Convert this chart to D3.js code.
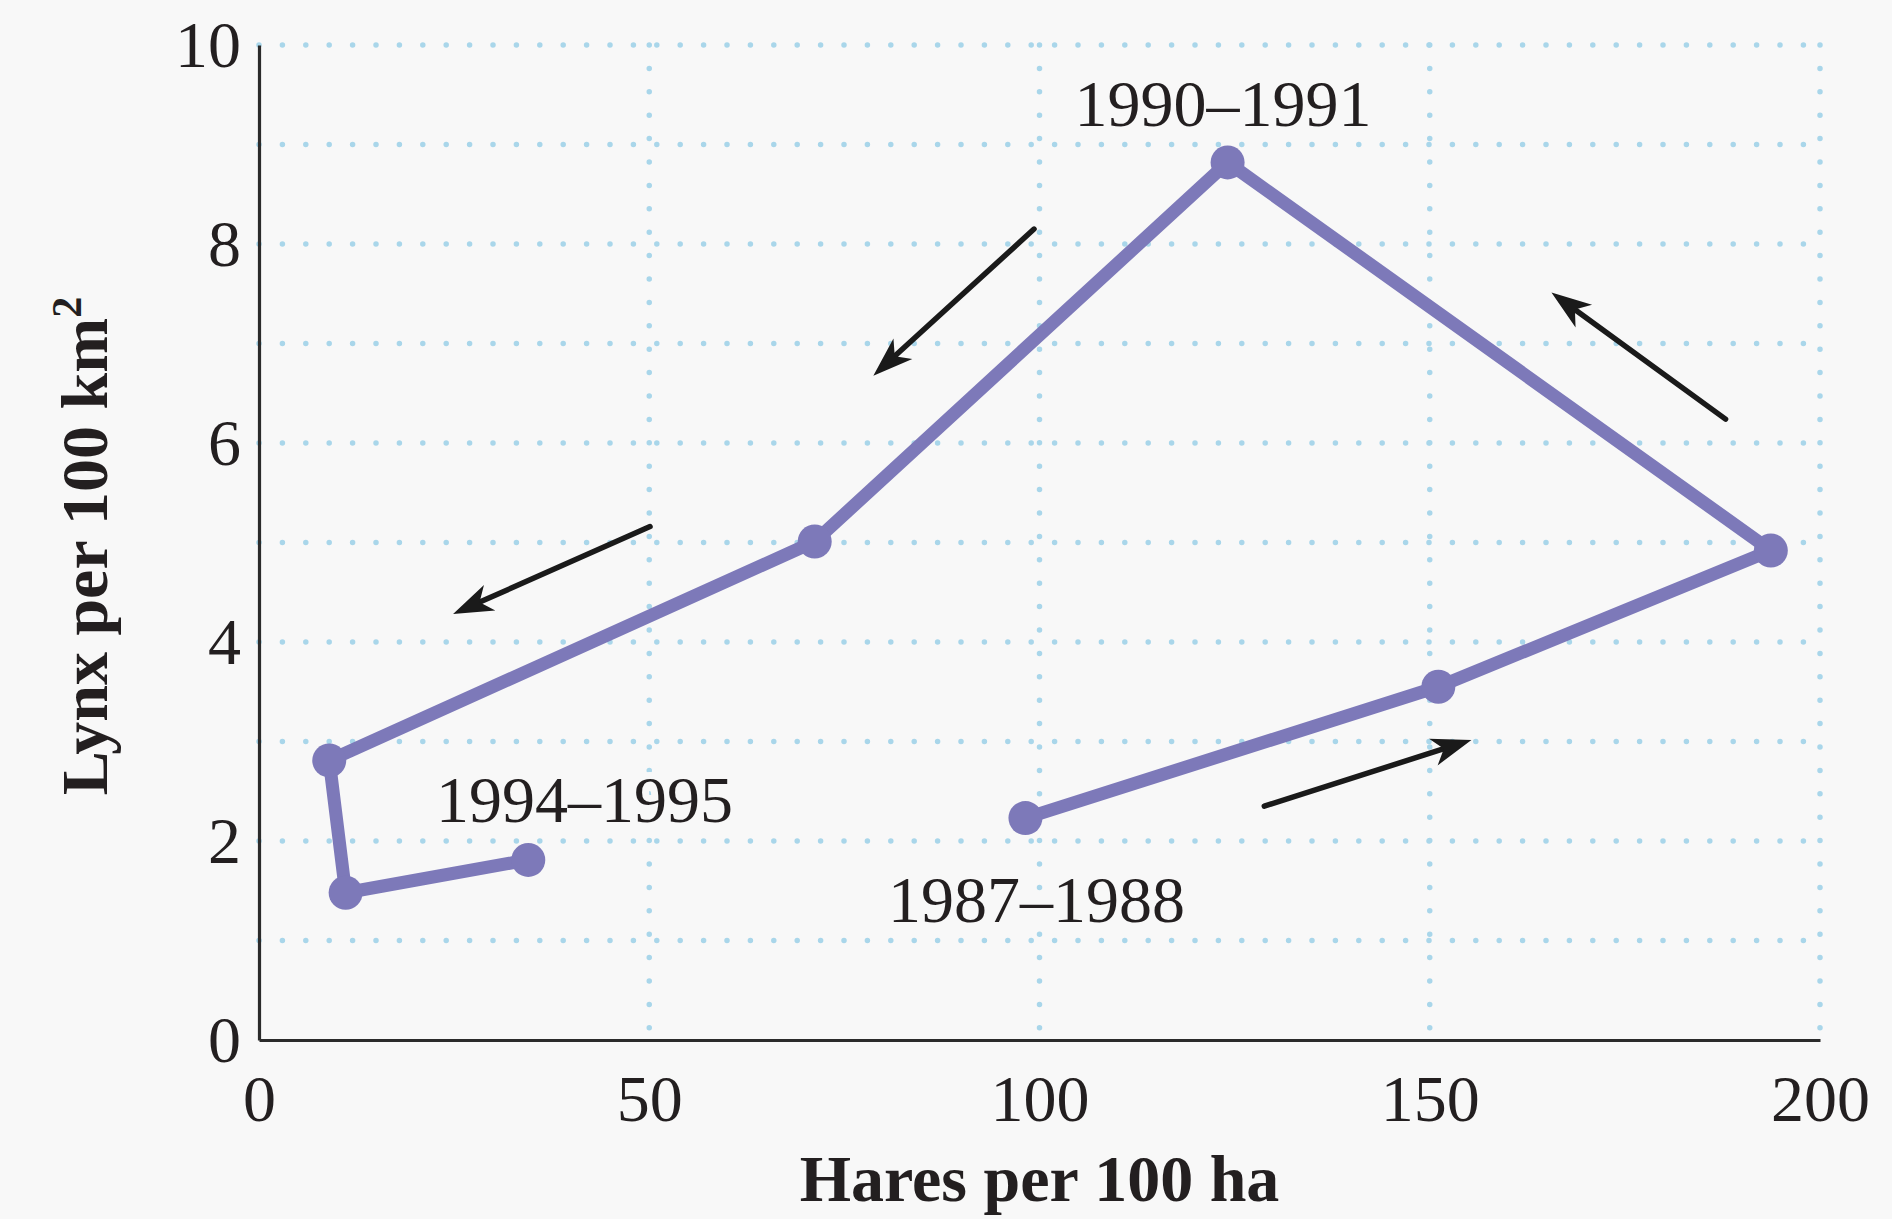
<!DOCTYPE html>
<html>
<head>
<meta charset="utf-8">
<script src="https://cdn.jsdelivr.net/npm/d3@7"></script>
<style>
  html, body { margin: 0; padding: 0; background: #f8f8f8; }
  svg { display: block; }
  text { font-family: "Liberation Serif", "DejaVu Serif", serif; fill: #231f20; }
</style>
</head>
<body>
<svg id="chart" width="1892" height="1219"></svg>
<script>
// Hare and lynx densities, one point per winter, in time order
const years = ["1987–1988", "1988–1989", "1989–1990", "1990–1991", "1991–1992", "1992–1993", "1993–1994", "1994–1995"];
const hares = [98.2, 151.1, 193.7, 124.1, 71.2, 9.0, 11.1, 34.5];
const lynx  = [2.23, 3.55, 4.92, 8.82, 5.01, 2.81, 1.48, 1.81];

// Which points carry a year label, and where the label sits (data units)
const labelIndex = [0, 3, 7];
const labelX = [99.6, 123.5, 41.7];
const labelY = [1.42, 9.42, 2.42];

// Direction-of-travel arrows: start and end in data units
const arrowX0 = [99.3, 50.1, 187.9, 128.8];
const arrowY0 = [8.15, 5.16, 6.24, 2.35];
const arrowX1 = [78.9, 25.1, 165.8, 155.1];
const arrowY1 = [6.69, 4.29, 7.50, 3.01];

const xTicks = [0, 50, 100, 150, 200];
const yTicks = [0, 2, 4, 6, 8, 10];
const xGrid = [50, 100, 150, 200];
const yGrid = [1, 2, 3, 4, 5, 6, 7, 8, 9, 10];

const svg = d3.select("#chart");
const bg = "#f8f8f8";
svg.append("rect").attr("width", 1892).attr("height", 1219).attr("fill", bg);

const x = d3.scaleLinear().domain([0, 200]).range([259, 1820]);
const y = d3.scaleLinear().domain([0, 10]).range([1040, 45]);

// Dotted grid
const gridStyle = g => g
  .attr("stroke", "#a9d6ea")
  .attr("stroke-width", 5.5)
  .attr("stroke-linecap", "round")
  .attr("stroke-dasharray", "0 23.4")
  .attr("fill", "none");

svg.append("g").selectAll("line").data(yGrid).join("line")
  .attr("x1", x(0)).attr("x2", x(200))
  .attr("y1", d => y(d)).attr("y2", d => y(d))
  .call(gridStyle);
svg.append("g").selectAll("line").data(xGrid).join("line")
  .attr("x1", d => x(d)).attr("x2", d => x(d))
  .attr("y1", y(10)).attr("y2", y(0))
  .call(gridStyle);

// Axes
const xAxis = svg.append("g")
  .attr("transform", `translate(0,${y(0)})`)
  .call(d3.axisBottom(x).tickValues(xTicks).tickSize(0).tickPadding(34).tickFormat(d3.format("d")));
const yAxis = svg.append("g")
  .attr("transform", `translate(${x(0)},0)`)
  .call(d3.axisLeft(y).tickValues(yTicks).tickSize(0).tickPadding(18).tickFormat(d3.format("d")));

[xAxis, yAxis].forEach(a => {
  a.select(".domain").attr("stroke", "#2b2b2b").attr("stroke-width", 3.2);
  a.selectAll("text")
    .attr("font-family", "'Liberation Serif', serif")
    .attr("font-size", 66)
    .attr("fill", "#231f20");
});

// Axis titles
svg.append("text")
  .attr("x", x(100)).attr("y", 1201)
  .attr("text-anchor", "middle")
  .attr("font-weight", "bold").attr("font-size", 66)
  .text("Hares per 100 ha");

const yTitle = svg.append("text")
  .attr("transform", `translate(107,546) rotate(-90)`)
  .attr("text-anchor", "middle")
  .attr("font-weight", "bold").attr("font-size", 66);
yTitle.append("tspan").text("Lynx per 100 km");
yTitle.append("tspan").attr("font-size", 42).attr("dy", -26).text("2");

// Direction arrows: shaft plus a barbed head rotated to the shaft's angle
const arrows = arrowX0.map((d, i) => {
  const x0 = x(d), y0 = y(arrowY0[i]), x1 = x(arrowX1[i]), y1 = y(arrowY1[i]);
  const ang = Math.atan2(y1 - y0, x1 - x0);
  return { x0, y0, x1, y1, ang };
});
const ag = svg.append("g");
ag.selectAll("line").data(arrows).join("line")
  .attr("x1", d => d.x0).attr("y1", d => d.y0)
  .attr("x2", d => d.x1 - 26 * Math.cos(d.ang)).attr("y2", d => d.y1 - 26 * Math.sin(d.ang))
  .attr("stroke", "#1a1a1a").attr("stroke-width", 5.5)
  .attr("stroke-linecap", "round");
ag.selectAll("path").data(arrows).join("path")
  .attr("transform", d => `translate(${d.x1},${d.y1}) rotate(${d.ang * 180 / Math.PI})`)
  .attr("d", "M2,0 L-38,-14 L-27,0 L-38,14 Z")
  .attr("fill", "#1a1a1a");

// Trajectory
const pts = hares.map((h, i) => [h, lynx[i]]);
const purple = "#7d79b9";
svg.append("path")
  .datum(pts)
  .attr("d", d3.line().x(d => x(d[0])).y(d => y(d[1])))
  .attr("fill", "none")
  .attr("stroke", purple)
  .attr("stroke-width", 13)
  .attr("stroke-linejoin", "round");

svg.append("g").selectAll("circle").data(pts).join("circle")
  .attr("cx", d => x(d[0])).attr("cy", d => y(d[1]))
  .attr("r", 17)
  .attr("fill", purple);

// Year labels, knocked out of the grid
svg.append("g").selectAll("text").data(labelIndex).join("text")
  .attr("x", (d, i) => x(labelX[i]))
  .attr("y", (d, i) => y(labelY[i]))
  .attr("text-anchor", "middle")
  .attr("dy", "0.35em")
  .attr("font-size", 66)
  .attr("stroke", bg).attr("stroke-width", 14)
  .attr("paint-order", "stroke")
  .text(d => years[d]);
</script>
</body>
</html>
